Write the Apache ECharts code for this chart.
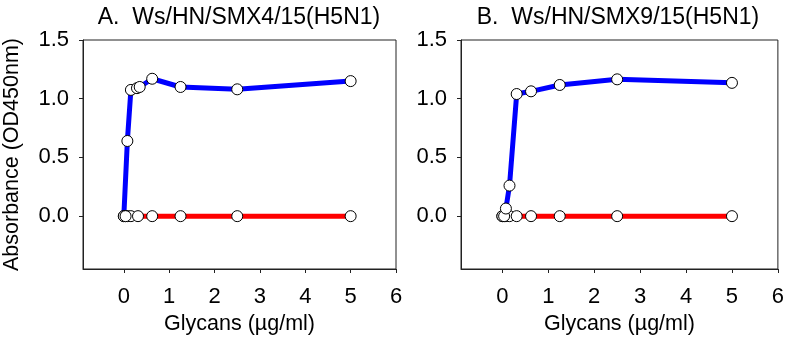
<!DOCTYPE html>
<html>
<head>
<meta charset="utf-8">
<script src="https://cdn.jsdelivr.net/npm/echarts@6/dist/echarts.min.js"></script>
<style>html,body{margin:0;padding:0;background:#fff}#c{width:787px;height:341px}</style>
</head>
<body>
<div id="c"></div>
<script>
var titles = ['A.  Ws/HN/SMX4/15(H5N1)', 'B.  Ws/HN/SMX9/15(H5N1)'];
var xTicks = [0, 1, 2, 3, 4, 5, 6];
var yTicks = [0, 0.5, 1.0, 1.5];
var concA_blue = [0, 0.039, 0.078, 0.156, 0.29, 0.35, 0.625, 1.25, 2.5, 5];
var absA_blue  = [0, 0, 0.64, 1.075, 1.09, 1.10, 1.17, 1.10, 1.08, 1.15];
var concA_red  = [0, 0.039, 0.078, 0.156, 0.3125, 0.625, 1.25, 2.5, 5];
var absA_red   = [0, 0, 0, 0, 0, 0, 0, 0, 0];
var concB_blue = [0, 0.039, 0.078, 0.156, 0.3125, 0.625, 1.25, 2.5, 5];
var absB_blue  = [0, 0, 0.065, 0.26, 1.04, 1.063, 1.117, 1.165, 1.135];
var concB_red  = [0, 0.039, 0.078, 0.156, 0.3125, 0.625, 1.25, 2.5, 5];
var absB_red   = [0, 0, 0, 0, 0, 0, 0, 0, 0];

function pairs(xs, ys) { return xs.map(function (x, i) { return [x, ys[i]]; }); }

var FONT = 'Liberation Sans, Arial, sans-serif';
var TXT = '#000';
var AX = '#222';

function xAxis(i) {
  return {
    gridIndex: i, type: 'value', min: -0.9, max: 6,
    name: 'Glycans (µg/ml)', nameLocation: 'middle', nameGap: 44,
    nameTextStyle: { fontFamily: FONT, fontSize: 21.5, color: TXT },
    axisLine: { onZero: false, lineStyle: { color: AX, width: 1 } },
    axisTick: { show: true, length: 4, inside: false, customValues: xTicks, lineStyle: { color: AX } },
    axisLabel: { customValues: xTicks, margin: 17, fontFamily: FONT, fontSize: 22, color: TXT },
    splitLine: { show: false }
  };
}
function yAxis(i) {
  return {
    gridIndex: i, type: 'value', min: -0.45, max: 1.5,
    name: i === 0 ? 'Absorbance (OD450nm)' : '', nameLocation: 'middle', nameGap: 60,
    nameTextStyle: { fontFamily: FONT, fontSize: 21.5, color: TXT },
    axisLine: { show: true, onZero: false, lineStyle: { color: AX, width: 1 } },
    axisTick: { show: true, length: 4, inside: false, customValues: yTicks, lineStyle: { color: AX } },
    axisLabel: { customValues: yTicks, margin: 14, fontFamily: FONT, fontSize: 22, color: TXT,
      formatter: function (v) { return v.toFixed(1); } },
    splitLine: { show: false }
  };
}
function lineS(i, data, color) {
  return { type: 'line', xAxisIndex: i, yAxisIndex: i, data: data, showSymbol: false,
    symbol: 'none', lineStyle: { color: color, width: 5 }, z: 2, animation: false };
}
function dotS(i, data) {
  return { type: 'scatter', xAxisIndex: i, yAxisIndex: i, data: data, symbol: 'circle', symbolSize: 11,
    itemStyle: { color: '#fff', borderColor: '#000', borderWidth: 1, opacity: 1 }, z: 5, animation: false };
}

var chart = echarts.init(document.getElementById('c'), null, { renderer: 'canvas' });
chart.setOption({
  animation: false,
  backgroundColor: '#fff',
  title: [
    { text: titles[0], left: 234, top: 1, textAlign: 'center', textStyle: { fontFamily: FONT, fontSize: 23, fontWeight: 'normal', color: TXT } },
    { text: titles[1], left: 613, top: 1, textAlign: 'center', textStyle: { fontFamily: FONT, fontSize: 23, fontWeight: 'normal', color: TXT } }
  ],
  grid: [
    { left: 78, top: 40, width: 318, height: 229, show: true, borderColor: AX, borderWidth: 1, backgroundColor: 'transparent' },
    { left: 461, top: 40, width: 318, height: 229, show: true, borderColor: AX, borderWidth: 1, backgroundColor: 'transparent' }
  ],
  xAxis: [xAxis(0), xAxis(1)],
  yAxis: [yAxis(0), yAxis(1)],
  series: [
    lineS(0, pairs(concA_red, absA_red), '#ff0000'),
    lineS(0, pairs(concA_blue, absA_blue), '#0000ff'),
    dotS(0, pairs(concA_red, absA_red)),
    dotS(0, pairs(concA_blue, absA_blue)),
    lineS(1, pairs(concB_red, absB_red), '#ff0000'),
    lineS(1, pairs(concB_blue, absB_blue), '#0000ff'),
    dotS(1, pairs(concB_red, absB_red)),
    dotS(1, pairs(concB_blue, absB_blue))
  ]
});
</script>
</body>
</html>
